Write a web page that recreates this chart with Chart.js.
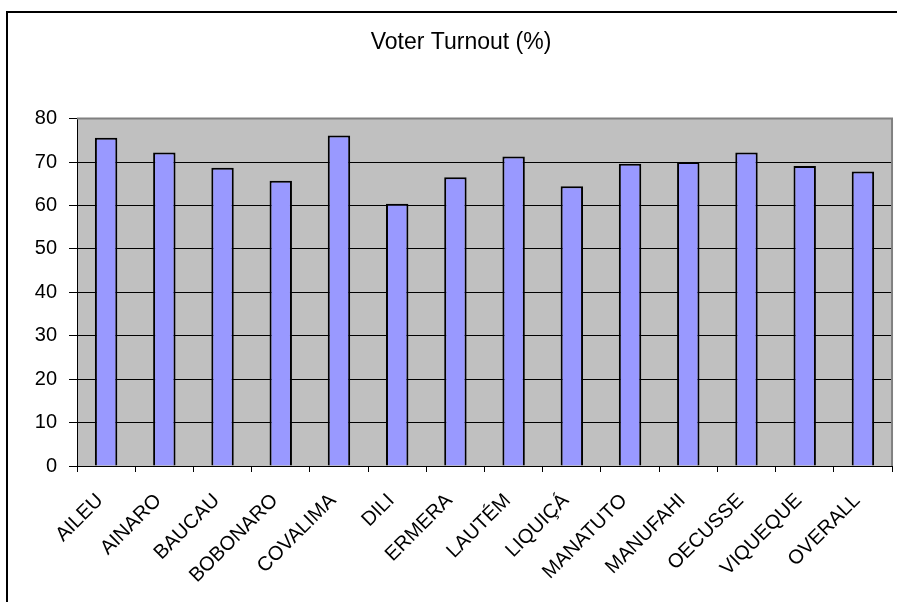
<!DOCTYPE html>
<html>
<head>
<meta charset="utf-8">
<script src="https://cdn.jsdelivr.net/npm/chart.js@4"></script>
<style>
  html, body { margin: 0; padding: 0; background: #fff; }
  #wrap { width: 897px; height: 602px; }
</style>
</head>
<body>
<div id="wrap"><canvas id="turnout" width="897" height="602"></canvas></div>
<script>
const districts = [ 'AILEU', 'AINARO', 'BAUCAU', 'BOBONARO', 'COVALIMA', 'DILI', 'ERMERA',
  'LAUTÉM', 'LIQUIÇÁ', 'MANATUTO', 'MANUFAHI', 'OECUSSE', 'VIQUEQUE', 'OVERALL' ]
const turnout = [ 75.6, 72.2, 68.7, 65.7, 76.1, 60.4, 66.5, 71.3, 64.4, 69.6, 70.0, 72.2, 69.1, 67.8 ]
const yTicks = [ 0, 10, 20, 30, 40, 50, 60, 70, 80 ]

const font = "'Liberation Sans', Arial, sans-serif"

// grey plot area + outer frame, like the old spreadsheet chart
const frame = {
  id: 'frame',
  beforeDraw( chart ) {
    const { ctx, chartArea: a } = chart
    ctx.save()
    ctx.fillStyle = '#fff'
    ctx.fillRect( 0, 0, chart.width, chart.height )
    ctx.strokeStyle = '#000'
    ctx.lineWidth = 2
    ctx.strokeRect( 7, 12, 1200, 1200 )
    ctx.fillStyle = '#c0c0c0'
    ctx.fillRect( a.left, a.top, a.right - a.left, a.bottom - a.top )
    ctx.restore()
  },
  afterDatasetsDraw( chart ) {
    const { ctx, chartArea: a } = chart
    ctx.save()
    ctx.strokeStyle = '#808080'
    ctx.lineWidth = 2
    ctx.beginPath()
    ctx.moveTo( a.left, a.top )
    ctx.lineTo( a.right, a.top )
    ctx.lineTo( a.right, a.bottom )
    ctx.stroke()
    ctx.restore()
  }
}

const config = {
  type: 'bar',
  data: {
    labels: districts,
    datasets: [ {
      label: 'Voter Turnout (%)',
      data: turnout,
      backgroundColor: '#9999ff',
      borderColor: '#000',
      borderWidth: 2,
      barPercentage: 0.385,
      categoryPercentage: 1
    } ]
  },
  options: {
    responsive: false,
    animation: false,
    layout: { padding: { left: 28, right: 3, top: 0, bottom: 0 } },
    plugins: {
      legend: { display: false },
      tooltip: { enabled: false },
      title: {
        display: true,
        text: 'Voter Turnout (%)',
        color: '#000',
        font: { family: font, size: 23, weight: 'normal', lineHeight: 1.2 },
        padding: { top: 29, bottom: 62 }
      }
    },
    scales: {
      x: {
        afterFit: s => { s.height = 136 },
        grid: { display: true, drawOnChartArea: false, drawTicks: true, tickLength: 6, color: '#000', offset: true },
        border: { color: '#000', width: 1 },
        ticks: {
          color: '#000',
          font: { family: font, size: 20 },
          minRotation: 45,
          maxRotation: 45,
          autoSkip: false,
          padding: 17,
          labelOffset: -6
        }
      },
      y: {
        min: 0,
        max: 80,
        afterFit: s => { s.width = 49 },
        afterBuildTicks: s => { s.ticks = yTicks.map( v => ( { value: v } ) ) },
        grid: { color: '#000', lineWidth: 1, tickLength: 8 },
        border: { color: '#000', width: 1 },
        ticks: {
          color: '#000',
          font: { family: font, size: 20 },
          padding: 12
        }
      }
    }
  },
  plugins: [ frame ]
}

const chart = new Chart( document.getElementById( 'turnout' ), config )
</script>
</body>
</html>
